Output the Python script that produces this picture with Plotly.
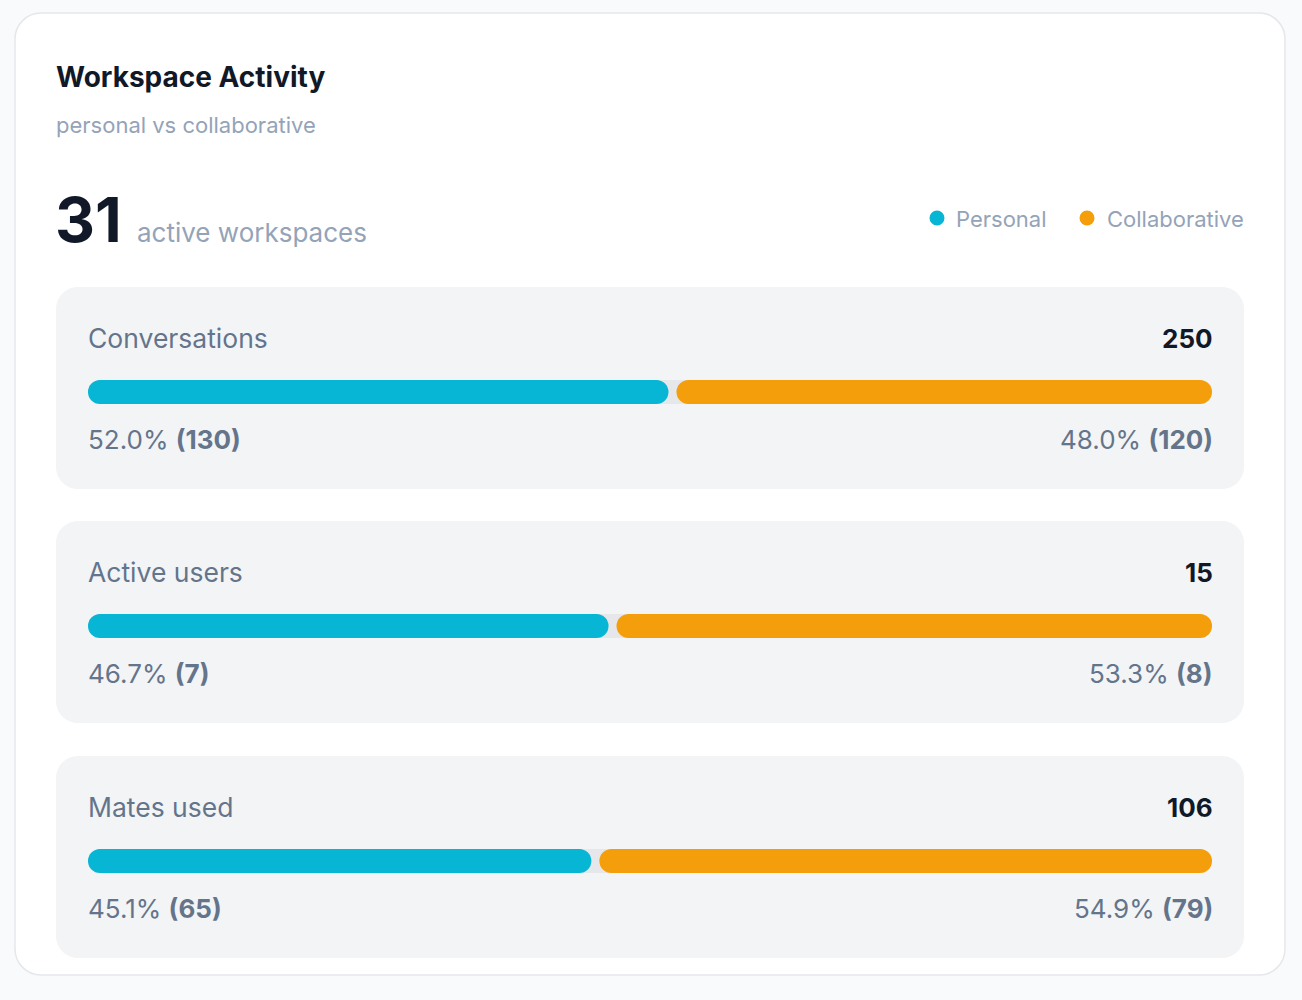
import plotly.graph_objects as go

# data
metrics = ["Conversations", "Active users", "Mates used"]
totals = [250, 15, 106]
personal = [130, 7, 65]
collaborative = [120, 8, 79]
active_workspaces = 31
series_names = ["Personal", "Collaborative"]

W, H = 1302, 1000
CYAN = "#06b6d4"
ORANGE = "#f59e0b"
TRACK = "#e5e7eb"
PANEL = "#f3f4f6"
DARK = "#111827"
MUTED = "#94a3b8"
LABEL = "#64748b"
FONT = "Inter, Noto Sans, sans-serif"


def fx(x):
    return x / W


def fy(y):
    return 1 - y / H


def rrect(x0, y0, x1, y1, r):
    # rounded rectangle in pixel coords -> paper path
    k = 0.5523 * r
    pts = [
        ("M", [(x0 + r, y0)]),
        ("L", [(x1 - r, y0)]),
        ("C", [(x1 - r + k, y0), (x1, y0 + r - k), (x1, y0 + r)]),
        ("L", [(x1, y1 - r)]),
        ("C", [(x1, y1 - r + k), (x1 - r + k, y1), (x1 - r, y1)]),
        ("L", [(x0 + r, y1)]),
        ("C", [(x0 + r - k, y1), (x0, y1 - r + k), (x0, y1 - r)]),
        ("L", [(x0, y0 + r)]),
        ("C", [(x0, y0 + r - k), (x0 + r - k, y0), (x0 + r, y0)]),
    ]
    s = ""
    for cmd, ps in pts:
        s += cmd + " " + " ".join(f"{fx(a):.5f},{fy(b):.5f}" for a, b in ps) + " "
    return s + "Z"


def text(x, y, t, size, color, anchor="left"):
    # annotation boxes carry ~3px padding, nudge to hit the glyph edge
    x = x - 3 if anchor == "left" else x + 3
    return dict(x=fx(x), y=fy(y), xref="paper", yref="paper", text=t, showarrow=False,
                xanchor=anchor, yanchor="middle", font=dict(size=size, color=color, family=FONT))


shapes = []
annotations = []

# card
shapes.append(dict(type="path", xref="paper", yref="paper", path=rrect(15, 13, 1285, 975, 26),
                   fillcolor="white", line=dict(color="#e5e7eb", width=1.5), layer="below"))

# header
annotations.append(text(57, 77, "<b>Workspace Activity</b>", 28, DARK))
annotations.append(text(57, 125, "personal vs collaborative", 22, MUTED))
annotations.append(text(56, 220, f"<b>{active_workspaces}</b>", 62, DARK))
annotations.append(text(138, 233, "active workspaces", 26, MUTED))

# legend
for name, col, dx, tx in [(series_names[0], CYAN, 937, 957), (series_names[1], ORANGE, 1087, 1108)]:
    shapes.append(dict(type="circle", xref="paper", yref="paper", x0=fx(dx - 7.5), x1=fx(dx + 7.5),
                       y0=fy(218 + 7.5), y1=fy(218 - 7.5), fillcolor=col, line=dict(width=0)))
    annotations.append(text(tx, 219, name, 22, MUTED))

fig = go.Figure()

panel_tops = [287, 521, 756]
bar_x0, bar_x1 = 88, 1212
gap = 4 / (bar_x1 - bar_x0)
layout_axes = {}


def add_round_bar(start, end, color, ax):
    fig.add_trace(go.Bar(y=[0], x=[end - start], base=[start], orientation="h", width=1,
                         marker=dict(color=color, cornerradius=12, line=dict(width=0)),
                         xaxis="x" + ax, yaxis="y" + ax, hoverinfo="skip", showlegend=False))


for i, m in enumerate(metrics):
    top = panel_tops[i]
    shapes.append(dict(type="path", xref="paper", yref="paper", path=rrect(56, top, 1244, top + 202, 22),
                       fillcolor=PANEL, line=dict(width=0), layer="below"))
    p, c = personal[i], collaborative[i]
    share = p / (p + c)
    ax = "" if i == 0 else str(i + 1)
    bc = top + 105
    add_round_bar(0, 1, TRACK, ax)
    add_round_bar(0, share - gap, CYAN, ax)
    add_round_bar(share + gap, 1, ORANGE, ax)
    layout_axes["xaxis" + ax] = dict(domain=[fx(bar_x0), fx(bar_x1)], range=[0, 1], visible=False,
                                     fixedrange=True, anchor="y" + ax)
    layout_axes["yaxis" + ax] = dict(domain=[fy(bc + 12), fy(bc - 12)], range=[-0.5, 0.5], visible=False,
                                     fixedrange=True, anchor="x" + ax)

    annotations.append(text(89, top + 51, m, 26.5, LABEL))
    annotations.append(text(1212, top + 51, f"<b>{totals[i]}</b>", 26, DARK, "right"))
    annotations.append(text(89, top + 152, f"{share * 100:.1f}% <b>({p})</b>", 26, LABEL))
    annotations.append(text(1212, top + 152, f"{(1 - share) * 100:.1f}% <b>({c})</b>", 26, LABEL, "right"))

fig.update_layout(
    width=W, height=H,
    margin=dict(l=0, r=0, t=0, b=0),
    paper_bgcolor="#f9fafb",
    plot_bgcolor="rgba(0,0,0,0)",
    barmode="overlay",
    showlegend=False,
    shapes=shapes,
    annotations=annotations,
    font=dict(family=FONT),
    **layout_axes,
)

fig.write_html("out.html", config={"displayModeBar": False},
               post_script="document.body.style.margin='0';document.body.style.background='#f9fafb';")
